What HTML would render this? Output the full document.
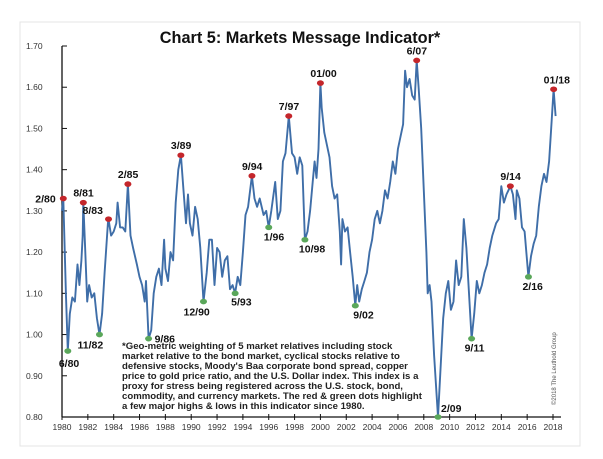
<!DOCTYPE html>
<html><head><meta charset="utf-8"><style>
body{margin:0;background:#fff;width:603px;height:454px;overflow:hidden;font-family:"Liberation Sans",sans-serif}
svg text{font-family:"Liberation Sans",sans-serif}
</style></head><body>
<svg id="c" width="603" height="454">
<rect x="20" y="22" width="560" height="424" fill="#fff" stroke="#e4e4e4"/>
<text x="300" y="43" text-anchor="middle" font-size="16.3" font-weight="bold" fill="#111">Chart 5: Markets Message Indicator*</text>
<g id="axes"></g><g id="series"></g><g id="marks"></g>
<g font-size="9.6" font-weight="bold" fill="#222">
<text x="122" y="349">*Geo-metric weighting of 5 market relatives including stock</text>
<text x="122" y="359">market relative to the bond market, cyclical stocks relative to</text>
<text x="122" y="369">defensive stocks, Moody's Baa corporate bond spread, copper</text>
<text x="122" y="379">price to gold price ratio, and the U.S. Dollar index. This index is a</text>
<text x="122" y="389">proxy for stress being registered across the U.S. stock, bond,</text>
<text x="122" y="399">commodity, and currency markets. The red &amp; green dots highlight</text>
<text x="122" y="409">a few major highs &amp; lows in this indicator since 1980.</text>
</g>
<text transform="translate(556,405) rotate(-90)" font-size="6" fill="#555">©2018 The Leuthold Group</text>
</svg>
<script>
const yTicks=[0.8,0.9,1.0,1.1,1.2,1.3,1.4,1.5,1.6,1.7];
const xTicks=[1980,1982,1984,1986,1988,1990,1992,1994,1996,1998,2000,2002,2004,2006,2008,2010,2012,2014,2016,2018];
const years=[1980.0,1980.1,1980.3,1980.45,1980.6,1980.8,1981.0,1981.2,1981.35,1981.5,1981.6,1981.65,1981.8,1981.95,1982.1,1982.3,1982.5,1982.7,1982.9,1983.1,1983.3,1983.55,1983.6,1983.8,1984.0,1984.2,1984.3,1984.5,1984.7,1984.9,1985.1,1985.3,1985.5,1985.8,1986.0,1986.2,1986.4,1986.5,1986.7,1986.9,1987.1,1987.3,1987.5,1987.7,1987.9,1988.0,1988.2,1988.4,1988.6,1988.8,1989.0,1989.2,1989.4,1989.6,1989.75,1989.9,1990.1,1990.3,1990.5,1990.7,1990.95,1991.2,1991.4,1991.6,1991.8,1992.0,1992.2,1992.4,1992.6,1992.8,1993.0,1993.2,1993.4,1993.6,1993.8,1994.0,1994.2,1994.4,1994.7,1994.9,1995.1,1995.3,1995.6,1995.8,1996.0,1996.2,1996.5,1996.7,1996.9,1997.1,1997.3,1997.55,1997.8,1998.0,1998.2,1998.4,1998.6,1998.8,1999.0,1999.2,1999.4,1999.55,1999.7,1999.85,2000.0,2000.1,2000.3,2000.5,2000.7,2000.9,2001.1,2001.3,2001.5,2001.6,2001.7,2001.9,2002.1,2002.3,2002.5,2002.7,2002.85,2003.0,2003.2,2003.4,2003.6,2003.8,2004.0,2004.2,2004.4,2004.6,2004.8,2005.0,2005.2,2005.4,2005.6,2005.8,2006.0,2006.2,2006.4,2006.55,2006.7,2006.9,2007.1,2007.3,2007.45,2007.6,2007.8,2008.0,2008.2,2008.3,2008.45,2008.6,2008.8,2009.0,2009.1,2009.3,2009.5,2009.7,2009.9,2010.1,2010.3,2010.5,2010.7,2010.9,2011.1,2011.3,2011.5,2011.7,2011.9,2012.1,2012.3,2012.5,2012.7,2012.9,2013.1,2013.3,2013.6,2013.8,2014.0,2014.2,2014.4,2014.7,2014.9,2015.1,2015.2,2015.4,2015.6,2015.8,2016.1,2016.3,2016.5,2016.7,2016.9,2017.1,2017.3,2017.5,2017.7,2017.9,2018.05,2018.2];
const values=[1.30,1.33,1.10,0.96,1.05,1.09,1.08,1.17,1.12,1.18,1.24,1.32,1.20,1.08,1.12,1.09,1.10,1.04,1.00,1.05,1.15,1.27,1.28,1.24,1.25,1.27,1.32,1.26,1.26,1.25,1.365,1.24,1.21,1.17,1.14,1.12,1.08,1.13,0.99,1.01,1.10,1.14,1.16,1.12,1.23,1.16,1.13,1.20,1.18,1.32,1.40,1.435,1.35,1.27,1.34,1.27,1.24,1.31,1.28,1.21,1.08,1.15,1.23,1.23,1.12,1.21,1.20,1.14,1.18,1.19,1.11,1.12,1.10,1.14,1.12,1.20,1.29,1.31,1.385,1.33,1.31,1.33,1.29,1.30,1.26,1.30,1.37,1.28,1.30,1.42,1.44,1.53,1.44,1.43,1.39,1.43,1.41,1.23,1.25,1.30,1.37,1.42,1.38,1.45,1.61,1.55,1.49,1.46,1.43,1.36,1.33,1.34,1.25,1.17,1.28,1.25,1.26,1.20,1.14,1.07,1.12,1.08,1.11,1.13,1.15,1.20,1.23,1.28,1.30,1.27,1.30,1.35,1.33,1.37,1.42,1.39,1.45,1.48,1.51,1.64,1.60,1.62,1.58,1.57,1.665,1.60,1.50,1.35,1.20,1.10,1.12,1.08,0.95,0.85,0.80,0.92,1.04,1.10,1.13,1.06,1.08,1.18,1.12,1.14,1.28,1.21,1.10,0.99,1.05,1.13,1.10,1.12,1.15,1.17,1.21,1.24,1.27,1.28,1.36,1.32,1.34,1.36,1.34,1.28,1.35,1.33,1.26,1.25,1.14,1.19,1.22,1.24,1.31,1.36,1.39,1.37,1.42,1.52,1.595,1.53];
const markLabels=["2/80","6/80","8/81","11/82","8/83","2/85","9/86","3/89","12/90","5/93","9/94","1/96","7/97","10/98","01/00","9/02","6/07","2/09","9/11","9/14","2/16","01/18"];
const markYears=[1980.1,1980.45,1981.65,1982.9,1983.6,1985.1,1986.7,1989.2,1990.95,1993.4,1994.7,1996.0,1997.55,1998.8,2000.0,2002.7,2007.45,2009.1,2011.7,2014.7,2016.1,2018.05];
const markValues=[1.33,0.96,1.32,1.00,1.28,1.365,0.99,1.435,1.08,1.10,1.385,1.26,1.53,1.23,1.61,1.07,1.665,0.80,0.99,1.36,1.14,1.595];
const markHigh=[1,0,1,0,1,1,0,1,0,0,1,0,1,0,1,0,1,0,0,1,0,1];
const NS="http://www.w3.org/2000/svg";
const X=y=>62+(y-1980)*(491/38), Y=v=>417-(v-0.8)*(371/0.9);
function mk(t,a,p){const e=document.createElementNS(NS,t);for(const k in a)e.setAttribute(k,a[k]);p.appendChild(e);return e;}
const ax=document.getElementById('axes');
let yl=mk('line',{x1:62,y1:Y(1.7),x2:62,y2:Y(0.8),stroke:'#111','stroke-width':1.3},ax);


let xl=mk('line',{x1:62,y1:Y(0.8),x2:X(2018)+8,y2:Y(0.8),stroke:'#111','stroke-width':1.3},ax);


yTicks.forEach(v=>{mk('line',{x1:62,x2:67,y1:Y(v),y2:Y(v),stroke:'#111'},ax);
const t=mk('text',{x:26,y:Y(v)+3,'font-size':8.5,fill:'#333'},ax);t.textContent=v.toFixed(2);

});
xTicks.forEach(y=>{mk('line',{x1:X(y),x2:X(y),y1:Y(0.8)-3,y2:Y(0.8)+3,stroke:'#111'},ax);
const t=mk('text',{x:X(y),y:Y(0.8)+13,'font-size':8.5,fill:'#333','text-anchor':'middle'},ax);t.textContent=y;

});
const sg=document.getElementById('series');
const p=mk('polyline',{points:years.map((y,i)=>X(y).toFixed(1)+','+Y(values[i]).toFixed(1)).join(' '),fill:'none',stroke:'#3f6ea8','stroke-width':1.9,'stroke-linejoin':'round'},sg);


const mg=document.getElementById('marks');
const off={"2/80":[-28,4],"6/80":[-9,16],"11/82":[-22,14],"8/83":[-26,-5],"9/86":[6,4],"12/90":[-20,14],"5/93":[-4,12],"1/96":[-5,13],"10/98":[-6,13],"9/02":[-2,13],"2/09":[3,-5],"9/11":[-7,13],"2/16":[-6,13]};
markLabels.forEach((l,i)=>{const cx=X(markYears[i]),cy=Y(markValues[i]);
const c=mk('ellipse',{cx,cy,rx:3.5,ry:2.8,fill:markHigh[i]?'#c4262b':'#5aa75a'},mg);


const o=off[l]||[-10,-6];
const t=mk('text',{x:cx+o[0],y:cy+o[1],'font-size':10.5,'font-weight':'bold',fill:'#111'},mg);t.textContent=l;

});
</script>
</body></html>
